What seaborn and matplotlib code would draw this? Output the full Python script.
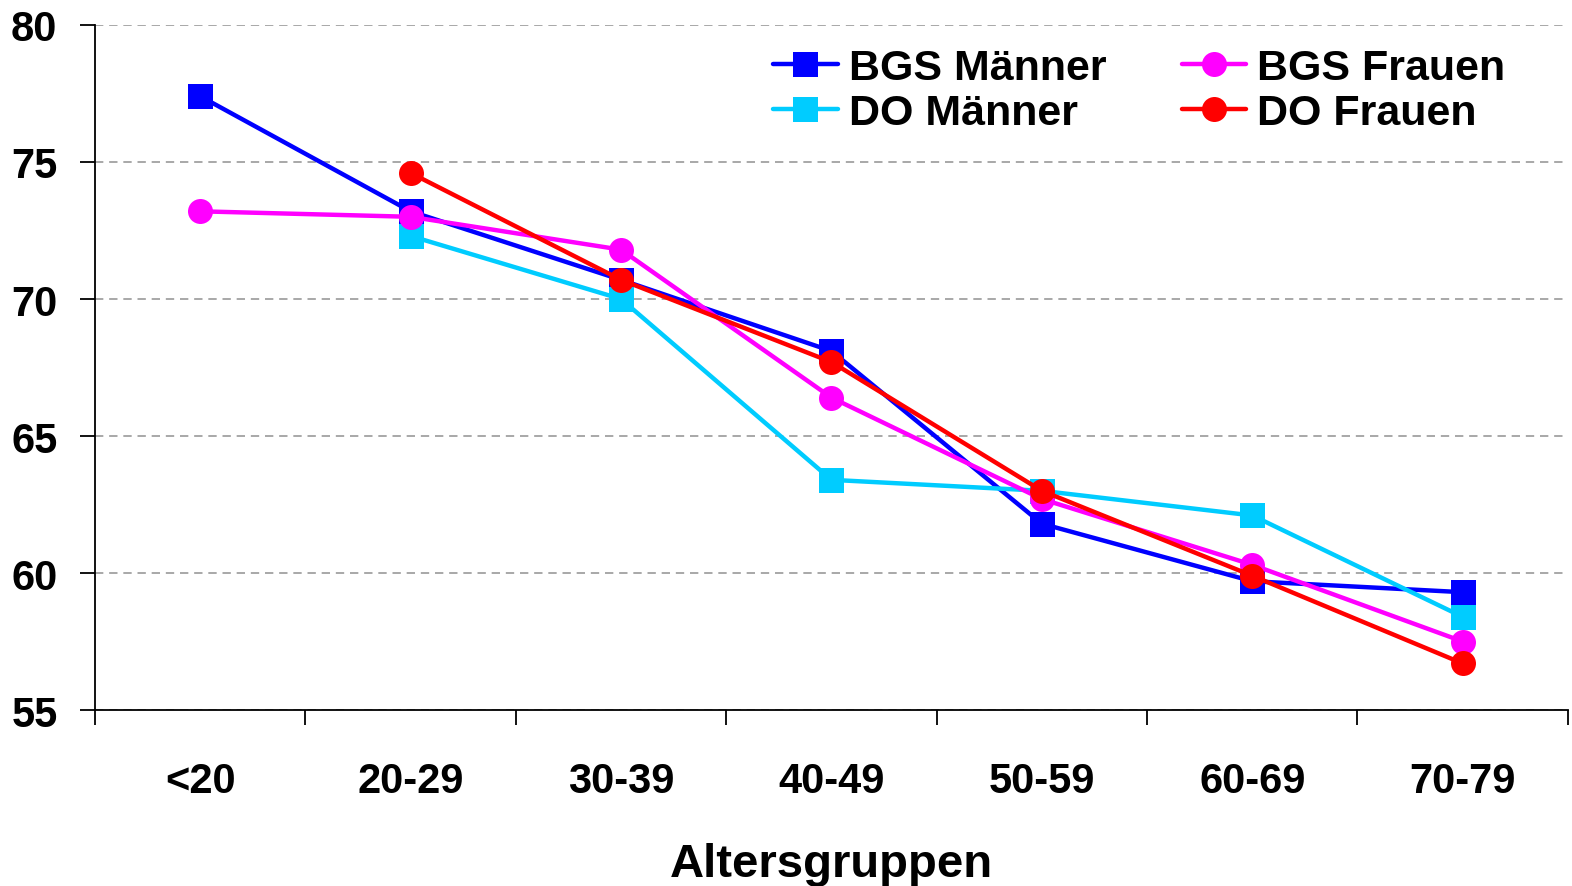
import pandas as pd
import numpy as np
import seaborn as sns
import matplotlib.pyplot as plt
from matplotlib.ticker import FixedLocator

# age groups and mean values
age_groups = ['<20', '20-29', '30-39', '40-49', '50-59', '60-69', '70-79']
bgs_maenner = [77.4, 73.2, 70.7, 68.1, 61.8, 59.7, 59.3]
do_maenner = [np.nan, 72.3, 70.0, 63.4, 63.0, 62.1, 58.4]
bgs_frauen = [73.2, 73.0, 71.8, 66.4, 62.7, 60.3, 57.5]
do_frauen = [np.nan, 74.6, 70.7, 67.7, 63.0, 59.9, 56.7]

series_names = ['BGS Männer', 'DO Männer', 'BGS Frauen', 'DO Frauen']
series_values = [bgs_maenner, do_maenner, bgs_frauen, do_frauen]
colors = ['#0000FF', '#00CCFF', '#FF00FF', '#FF0000']
markers = ['s', 's', 'o', 'o']

rows = []
for name, vals in zip(series_names, series_values):
    for i, (grp, v) in enumerate(zip(age_groups, vals)):
        rows.append({'serie': name, 'pos': i, 'gruppe': grp, 'wert': v})
df = pd.DataFrame(rows).dropna()

sns.set_style('white')
plt.rcParams['font.family'] = ['Liberation Sans', 'DejaVu Sans']
plt.rcParams['font.weight'] = 'bold'
plt.rcParams['text.color'] = 'black'
plt.rcParams['axes.labelcolor'] = 'black'
plt.rcParams['xtick.color'] = 'black'
plt.rcParams['ytick.color'] = 'black'

fig = plt.figure(figsize=(15.72, 8.87), dpi=100)
ax = fig.add_axes([0.0604, 0.1984, 0.937, 0.7723])

for name, col, mk in zip(series_names, colors, markers):
    sub = df[df['serie'] == name]
    sns.lineplot(data=sub, x='pos', y='wert', ax=ax, color=col, marker=mk,
                 markersize=18, markeredgewidth=0, linewidth=3.2, label=name)

ax.set_xlim(-0.5, len(age_groups) - 0.5)
ax.set_ylim(55, 80)
ax.set_yticks([55, 60, 65, 70, 75, 80])
ax.yaxis.grid(True, linestyle=(0, (5, 3.5)), color='#999999', linewidth=1.2)
ax.set_axisbelow(True)

ax.set_xticks(range(len(age_groups)))
ax.set_xticklabels(age_groups)
ax.xaxis.set_minor_locator(FixedLocator(np.arange(-0.5, len(age_groups), 1.0)))
ax.tick_params(axis='x', which='major', length=0, pad=37, labelsize=30)
ax.tick_params(axis='x', which='minor', length=11, width=1.3, direction='out', color='black', bottom=True)
ax.tick_params(axis='y', which='major', length=11, width=1.3, direction='out', color='black', pad=16, labelsize=30, left=True)

for s in ['top', 'right']:
    ax.spines[s].set_visible(False)
for s in ['left', 'bottom']:
    ax.spines[s].set_color('black')
    ax.spines[s].set_linewidth(1.3)

ax.set_xlabel('Altersgruppen', fontsize=34, fontweight='bold', labelpad=29)
ax.set_ylabel('')

handles, labels = ax.get_legend_handles_labels()
ax.legend(handles, labels, ncol=2, loc='upper left', bbox_to_anchor=(0.4917, 0.945),
          bbox_transform=fig.transFigure, frameon=False, fontsize=31, borderpad=0,
          handlelength=1.5, handletextpad=0.26, columnspacing=1.75, labelspacing=0.12,
          borderaxespad=0)

plt.savefig('out.png', dpi=100)
